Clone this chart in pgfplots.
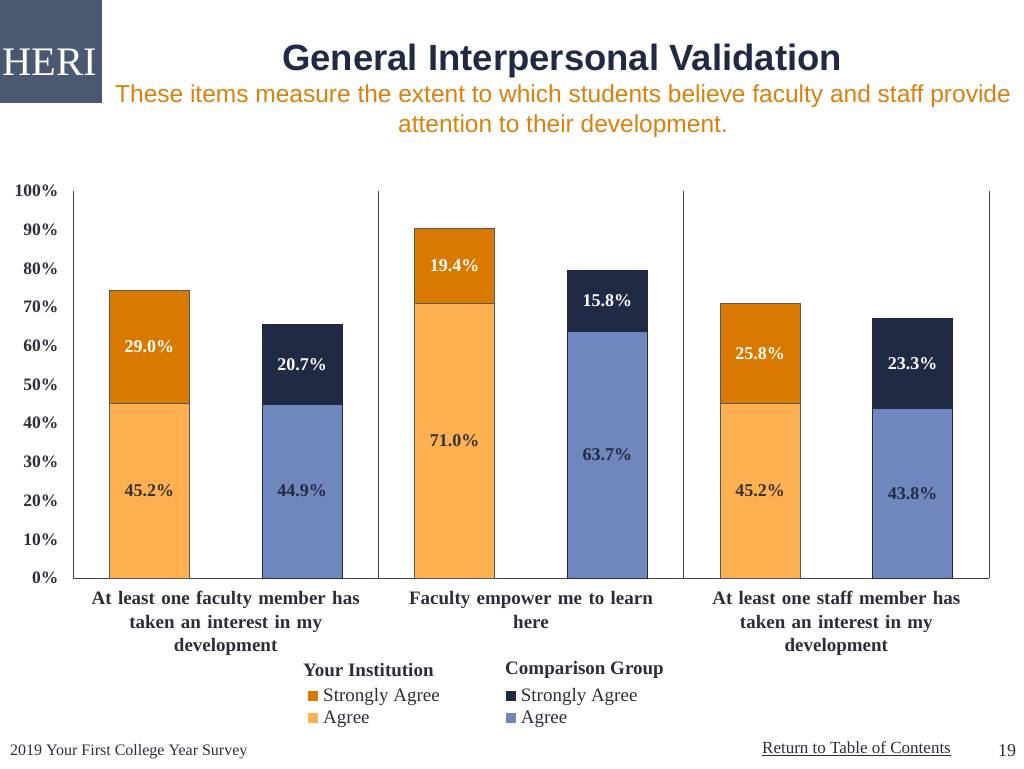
\documentclass[border=0pt]{standalone}
\usepackage{fontspec}
\setmainfont{Liberation Serif}
\newfontfamily\sansf{Liberation Sans}
\usepackage{pgfplots}
\pgfplotsset{compat=1.18}
\definecolor{dorange}{RGB}{217,121,0}
\definecolor{lorange}{RGB}{255,176,80}
\definecolor{navy}{RGB}{33,42,68}
\definecolor{cblue}{RGB}{111,135,189}
\definecolor{logo}{RGB}{75,88,114}
\definecolor{subor}{RGB}{217,128,14}
\definecolor{axcol}{RGB}{62,64,82}
\definecolor{txt}{RGB}{45,45,58}
\definecolor{bord}{RGB}{90,90,90}
\pgfplotsset{sqleg/.style={legend image code/.code={\fill[##1,draw=none] (0pt,-5pt) rectangle (10pt,5pt); \path[draw=none,fill=none] (0pt,0pt) -- (13pt,0pt);}}}
\begin{document}
\begin{tikzpicture}[x=1pt,y=1pt]
\path (0,0) rectangle (1024,768);
\fill[logo] (0,665) rectangle (102,768);
\node[white, font=\fontsize{40.5}{40}\selectfont] at (50,706) {HERI};
\node[navy, font=\sansf\bfseries\fontsize{36.5}{40}\selectfont] at (562,707) {General Interpersonal Validation};
\node[subor, font=\sansf\fontsize{24.5}{28}\selectfont] at (563,672) {These items measure the extent to which students believe faculty and staff provide};
\node[subor, font=\sansf\fontsize{24.5}{28}\selectfont] at (563,642) {attention to their development.};
\begin{axis}[
  at={(73pt,190pt)}, anchor=south west, width=916pt, height=387pt, scale only axis,
  xmin=-0.5, xmax=2.5, ymin=0, ymax=100,
  axis x line*=bottom, axis y line*=left,
  axis line style={axcol, line width=1pt, -},
  major tick length=0pt,
  ytick={0,10,...,100},
  yticklabels={0\%,10\%,20\%,30\%,40\%,50\%,60\%,70\%,80\%,90\%,100\%},
  yticklabel style={font=\bfseries\fontsize{17.5}{20}\selectfont, text=txt, xshift=-11pt},
  xtick={0,1,2},
  xticklabels={{At least one faculty member has\\taken an interest in my\\development},{Faculty empower me to learn\\here},{At least one staff member has\\taken an interest in my\\development}},
  xticklabel style={font=\bfseries\fontsize{19}{23.5}\selectfont, text=txt, align=center, text width=300pt, anchor=north, yshift=-10pt},
  extra x ticks={0.5,1.5,2.5},
  extra x tick labels={},
  extra x tick style={grid=major, major grid style={axcol, line width=1pt}},
  legend columns=2,
  legend style={at={(0.2533,-0.274)}, anchor=north west, draw=none, fill=none,
    font=\fontsize{19}{22}\selectfont, text=txt, cells={anchor=west},
    /tikz/every even column/.append style={column sep=64pt}, row sep=4pt},
  clip=false,
]
% totals (Agree + Strongly Agree)
\addplot[ybar, bar width=0.262, bar shift=0pt, fill=dorange, draw=bord, line width=0.8pt, sqleg] coordinates {(-0.25,74.2) (0.75,90.4) (1.75,71.0)};
\addlegendentry{Strongly Agree}
\addplot[ybar, bar width=0.262, bar shift=0pt, fill=navy, draw=navy, line width=0.8pt, sqleg] coordinates {(0.25,65.6) (1.25,79.5) (2.25,67.1)};
\addlegendentry{Strongly Agree}
% Agree
\addplot[ybar, bar width=0.262, bar shift=0pt, fill=lorange, draw=bord, line width=0.8pt, sqleg] coordinates {(-0.25,45.2) (0.75,71.0) (1.75,45.2)};
\addlegendentry{Agree}
\addplot[ybar, bar width=0.262, bar shift=0pt, fill=cblue, draw=navy, line width=0.8pt, sqleg] coordinates {(0.25,44.9) (1.25,63.7) (2.25,43.8)};
\addlegendentry{Agree}
% segment labels
\addplot[draw=none, forget plot, nodes near coords={\pgfplotspointmeta\%}, point meta=explicit symbolic,
  nodes near coords style={anchor=center, font=\bfseries\fontsize{18}{20}\selectfont, text=white}]
  coordinates {(-0.25,59.7)[29.0] (0.75,80.7)[19.4] (1.75,58.1)[25.8] (0.25,55.25)[20.7] (1.25,71.6)[15.8] (2.25,55.45)[23.3]};
\addplot[draw=none, forget plot, nodes near coords={\pgfplotspointmeta\%}, point meta=explicit symbolic,
  nodes near coords style={anchor=center, font=\bfseries\fontsize{18}{20}\selectfont, text={rgb,255:red,51;green,51;blue,51}}]
  coordinates {(-0.25,22.6)[45.2] (0.75,35.5)[71.0] (1.75,22.6)[45.2]};
\addplot[draw=none, forget plot, nodes near coords={\pgfplotspointmeta\%}, point meta=explicit symbolic,
  nodes near coords style={anchor=center, font=\bfseries\fontsize{18}{20}\selectfont, text=navy}]
  coordinates {(0.25,22.45)[44.9] (1.25,31.85)[63.7] (2.25,21.9)[43.8]};
\end{axis}
\node[anchor=west, text=txt, inner sep=0pt, font=\bfseries\fontsize{19}{22}\selectfont] at (303,98) {Your Institution};
\node[anchor=west, text=txt, inner sep=0pt, font=\bfseries\fontsize{19}{22}\selectfont] at (505,98) {Comparison Group};
\node[anchor=west, text=txt, inner sep=0pt, font=\fontsize{16}{18}\selectfont] at (10,16) {2019 Your First College Year Survey};
\node[anchor=west, text=txt, inner sep=0pt, font=\fontsize{17}{18}\selectfont] at (762,19) {\underline{Return to Table of Contents}};
\node[text=txt, inner sep=0pt, font=\fontsize{18}{20}\selectfont] at (1007,17) {19};
\pgfresetboundingbox
\path (0,0) rectangle (1024,768);
\end{tikzpicture}
\end{document}
